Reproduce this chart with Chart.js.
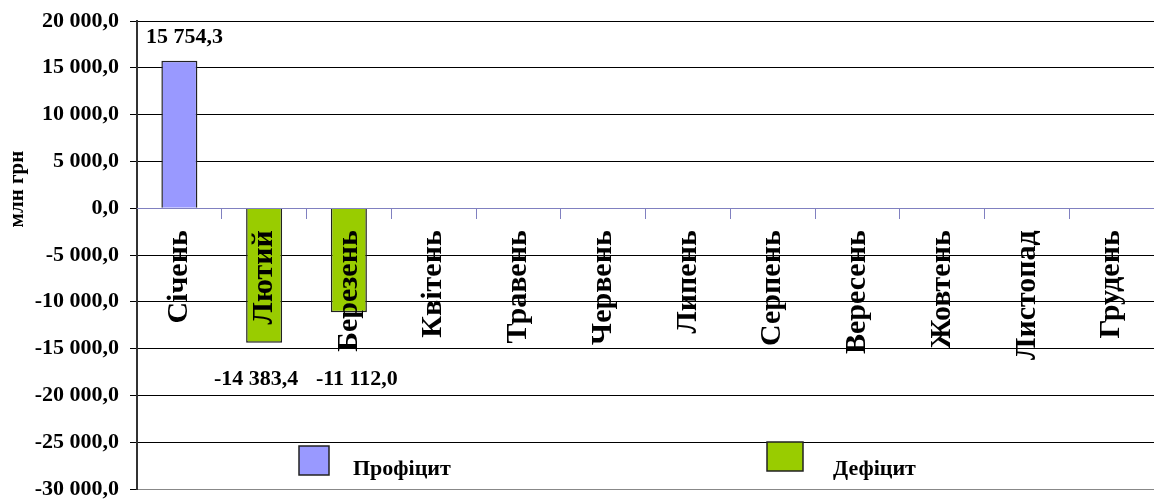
<!DOCTYPE html>
<html>
<head>
<meta charset="utf-8">
<script src="https://cdn.jsdelivr.net/npm/chart.js@4/dist/chart.umd.min.js"></script>
<style>
  html, body { margin: 0; padding: 0; background: #fff; }
  #chart { display: block; }
</style>
</head>
<body>
<canvas id="chart" width="1154" height="499"></canvas>
<script>
// months and values (млн грн)
const months = ['Січень', 'Лютий', 'Березень', 'Квітень', 'Травень', 'Червень',
  'Липень', 'Серпень', 'Вересень', 'Жовтень', 'Листопад', 'Грудень'];
const surplus = [15754.3, null, null, null, null, null, null, null, null, null, null, null];
const deficit = [null, -14383.4, -11112.0, null, null, null, null, null, null, null, null, null];
const yTicks = [20000, 15000, 10000, 5000, 0, -5000, -10000, -15000, -20000, -25000, -30000];

const FONT = '"Liberation Serif", "Times New Roman", serif';

function fmt(v) {
  const neg = v < 0;
  const parts = Math.abs(v).toFixed(1).split('.');
  const int = parts[0].replace(/\B(?=(\d{3})+(?!\d))/g, ' ');
  return (neg ? '-' : '') + int + ',' + parts[1];
}

// value labels over / under the bars
const valueLabels = {
  id: 'valueLabels',
  afterDatasetsDraw(chart) {
    const ctx = chart.ctx;
    const y = chart.scales.y;
    ctx.save();
    ctx.font = 'bold 22px ' + FONT;
    ctx.fillStyle = '#000';
    ctx.textAlign = 'center';
    ctx.textBaseline = 'middle';
    let negCount = 0;
    chart.data.datasets.forEach((ds, i) => {
      chart.getDatasetMeta(i).data.forEach((bar, j) => {
        const v = ds.data[j];
        if (v == null) return;
        if (v >= 0) {
          ctx.fillText(fmt(v), bar.x + 5, bar.y - 23);
        } else {
          // negative labels sit on one row under the bars, spread apart a bit
          const dx = negCount++ === 0 ? -8 : 8;
          ctx.fillText(fmt(v), bar.x + dx, y.getPixelForValue(-18300));
        }
      });
    });
    ctx.restore();
  }
};

// legend boxes inside the plot + y title
const extras = {
  id: 'extras',
  afterDraw(chart) {
    const ctx = chart.ctx;
    ctx.save();
    const items = [
      { ds: chart.data.datasets[0], x: 299, y: 446, w: 30, h: 29, tx: 353 },
      { ds: chart.data.datasets[1], x: 767, y: 442, w: 36, h: 29, tx: 833 }
    ];
    items.forEach(it => {
      ctx.fillStyle = it.ds.backgroundColor;
      ctx.fillRect(it.x, it.y, it.w, it.h);
      ctx.strokeStyle = '#222';
      ctx.lineWidth = 1.5;
      ctx.strokeRect(it.x, it.y, it.w, it.h);
      ctx.fillStyle = '#000';
      ctx.font = 'bold 22px ' + FONT;
      ctx.textBaseline = 'middle';
      ctx.textAlign = 'left';
      ctx.fillText(it.ds.label, it.tx, 469);
    });
    ctx.translate(18, 189);
    ctx.rotate(-Math.PI / 2);
    ctx.font = 'bold 21px ' + FONT;
    ctx.textAlign = 'center';
    ctx.textBaseline = 'middle';
    ctx.fillText('млн грн', 0, 0);
    ctx.restore();
  }
};

new Chart(document.getElementById('chart'), {
  type: 'bar',
  data: {
    labels: months,
    datasets: [
      {
        label: 'Профіцит',
        data: surplus,
        backgroundColor: '#9999ff',
        borderColor: '#222',
        borderWidth: 1.5,
        barPercentage: 0.425,
        categoryPercentage: 1
      },
      {
        label: 'Дефіцит',
        data: deficit,
        backgroundColor: '#99cc00',
        borderColor: '#222',
        borderWidth: 1.5,
        barPercentage: 0.425,
        categoryPercentage: 1
      }
    ]
  },
  options: {
    responsive: false,
    animation: false,
    layout: { padding: { top: 21, bottom: 10, left: 0, right: 0 } },
    plugins: {
      legend: { display: false },
      tooltip: { enabled: false }
    },
    scales: {
      x: {
        stacked: true,
        position: { y: 0 },
        afterFit(scale) {
          scale.paddingLeft = 0;
          scale.paddingRight = 0;
        },
        grid: {
          drawOnChartArea: false,
          offset: true,
          tickLength: 10,
          color: '#8080c0'
        },
        border: { color: '#8080c0', width: 1, z: 1 },
        ticks: {
          z: 1,
          autoSkip: false,
          minRotation: 90,
          maxRotation: 90,
          padding: 12,
          color: '#000',
          font: { family: FONT, size: 30, weight: 'bold' }
        }
      },
      y: {
        min: yTicks[yTicks.length - 1],
        max: yTicks[0],
        afterBuildTicks(scale) {
          scale.ticks = yTicks.map(v => ({ value: v }));
        },
        afterFit(scale) {
          scale.width = 137;
          scale.paddingTop = 0;
          scale.paddingBottom = 0;
        },
        grid: {
          color: c => c.tick.value === 0 ? 'rgba(0,0,0,0)' : (c.tick.value === -30000 ? '#888' : '#000'),
          tickColor: '#000',
          tickLength: 7,
          lineWidth: 1
        },
        border: { color: '#333', width: 2 },
        ticks: {
          padding: 11,
          color: '#000',
          font: { family: FONT, size: 22, weight: 'bold', lineHeight: 1 },
          callback: v => fmt(v)
        }
      }
    }
  },
  plugins: [valueLabels, extras]
});
</script>
</body>
</html>
